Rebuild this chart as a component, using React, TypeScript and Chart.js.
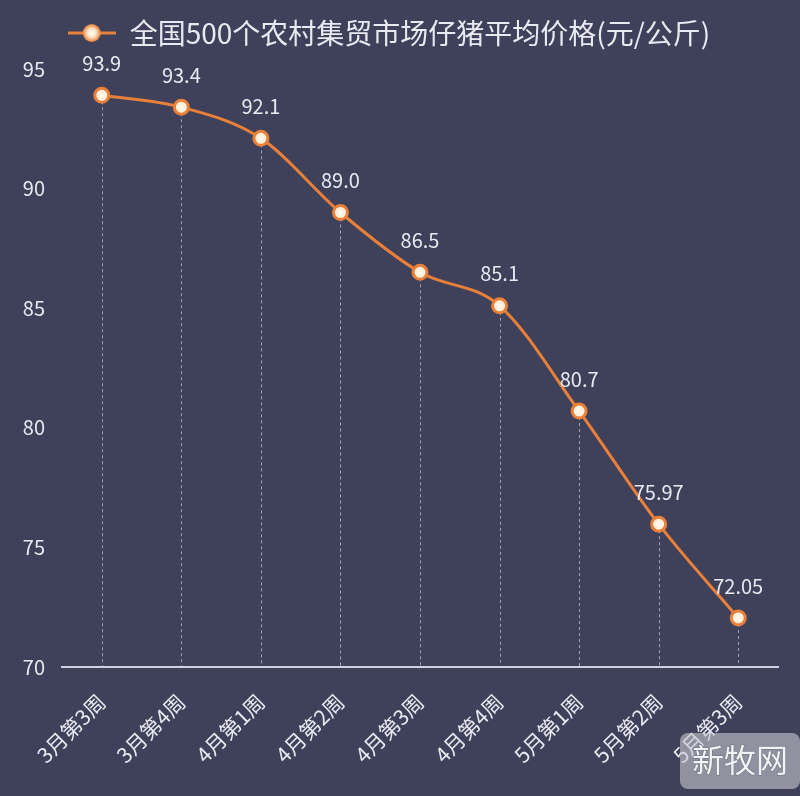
import React, { useEffect, useRef } from "react";
import { Chart, registerables } from "chart.js";

Chart.register(...registerables);

const categories = ["3月第3周", "3月第4周", "4月第1周", "4月第2周", "4月第3周", "4月第4周", "5月第1周", "5月第2周", "5月第3周"];
const prices = [93.9, 93.4, 92.1, 89.0, 86.5, 85.1, 80.7, 75.97, 72.05];
const priceLabels = ["93.9", "93.4", "92.1", "89.0", "86.5", "85.1", "80.7", "75.97", "72.05"];
const yTicks = [70, 75, 80, 85, 90, 95];
const seriesName = "全国500个农村集贸市场仔猪平均价格(元/公斤)";

const BG = "#3e4159";
const ORANGE = "#e8803a";
const TEXT = "#e8eaf2";
const FONT = "'Noto Sans CJK SC', 'Noto Sans', sans-serif";

function makeLegendIcon(): HTMLCanvasElement {
  const c = document.createElement("canvas");
  c.width = 48;
  c.height = 22;
  const ctx = c.getContext("2d")!;
  ctx.strokeStyle = ORANGE;
  ctx.lineWidth = 3;
  ctx.beginPath();
  ctx.moveTo(0, 11);
  ctx.lineTo(48, 11);
  ctx.stroke();
  const g = ctx.createRadialGradient(24, 11, 0, 24, 11, 9);
  g.addColorStop(0, "#ffffff");
  g.addColorStop(0.45, "#ffe8c8");
  g.addColorStop(1, ORANGE);
  ctx.fillStyle = g;
  ctx.beginPath();
  ctx.arc(24, 11, 9, 0, Math.PI * 2);
  ctx.fill();
  return c;
}

const bgPlugin = {
  id: "bgFill",
  beforeDraw(chart: any) {
    const { ctx, width, height } = chart;
    ctx.save();
    ctx.fillStyle = BG;
    ctx.fillRect(0, 0, width, height);
    ctx.restore();
  },
};

const dropLinePlugin = {
  id: "dropLines",
  beforeDatasetsDraw(chart: any) {
    const { ctx, chartArea } = chart;
    const meta = chart.getDatasetMeta(0);
    ctx.save();
    ctx.strokeStyle = "rgba(190,195,215,0.75)";
    ctx.lineWidth = 1;
    ctx.setLineDash([3, 3]);
    meta.data.forEach((el: any) => {
      const x = Math.round(el.x) + 0.5;
      ctx.beginPath();
      ctx.moveTo(x, el.y);
      ctx.lineTo(x, chartArea.bottom);
      ctx.stroke();
    });
    ctx.restore();
  },
};

const valueLabelPlugin = {
  id: "valueLabels",
  afterDatasetsDraw(chart: any) {
    const { ctx } = chart;
    const meta = chart.getDatasetMeta(0);
    ctx.save();
    ctx.fillStyle = TEXT;
    ctx.font = `20px ${FONT}`;
    ctx.textAlign = "center";
    ctx.textBaseline = "middle";
    meta.data.forEach((el: any, i: number) => {
      ctx.fillText(priceLabels[i], el.x, el.y - 32);
    });
    meta.data.forEach((el: any) => {
      const g = ctx.createRadialGradient(el.x, el.y, 0, el.x, el.y, 5);
      g.addColorStop(0, "rgba(255,255,255,1)");
      g.addColorStop(1, "rgba(255,230,200,0)");
      ctx.fillStyle = g;
      ctx.beginPath();
      ctx.arc(el.x, el.y, 5, 0, Math.PI * 2);
      ctx.fill();
    });
    ctx.restore();
  },
};

const watermarkPlugin = {
  id: "watermark",
  afterDraw(chart: any) {
    const { ctx } = chart;
    ctx.save();
    ctx.fillStyle = "rgba(200,200,208,0.6)";
    ctx.beginPath();
    ctx.roundRect(680, 733, 120, 56, 8);
    ctx.fill();
    ctx.fillStyle = "rgba(255,255,255,0.9)";
    ctx.strokeStyle = "#6e7080";
    ctx.lineWidth = 1;
    ctx.font = `32px ${FONT}`;
    ctx.textAlign = "center";
    ctx.textBaseline = "middle";
    ctx.strokeText("新牧网", 740, 760);
    ctx.fillText("新牧网", 740, 760);
    ctx.restore();
  },
};

export default function App() {
  const ref = useRef<HTMLCanvasElement | null>(null);

  useEffect(() => {
    if (!ref.current) return;
    const icon = makeLegendIcon();
    const chart = new Chart(ref.current, {
      type: "line",
      data: {
        labels: categories,
        datasets: [
          {
            label: seriesName,
            data: prices,
            borderColor: ORANGE,
            borderWidth: 3,
            backgroundColor: ORANGE,
            pointBackgroundColor: "#fff1dd",
            pointBorderColor: ORANGE,
            pointBorderWidth: 3,
            pointRadius: 7,
            pointStyle: "circle",
            cubicInterpolationMode: "monotone",
            fill: false,
          },
        ],
      },
      options: {
        animation: false,
        responsive: false,
        maintainAspectRatio: false,
        layout: { padding: { top: 0, right: 22, left: 0, bottom: 0 } },
        plugins: {
          legend: {
            display: true,
            position: "top",
            labels: {
              color: TEXT,
              font: { size: 28, family: FONT },
              usePointStyle: true,
              pointStyleWidth: 48,
              padding: 19,
              generateLabels: () => [
                {
                  text: seriesName,
                  fontColor: TEXT,
                  pointStyle: icon as any,
                  fillStyle: ORANGE,
                  strokeStyle: ORANGE,
                  lineWidth: 0,
                  hidden: false,
                  datasetIndex: 0,
                } as any,
              ],
            },
          },
          tooltip: { enabled: false },
        },
        scales: {
          x: {
            offset: true,
            grid: { display: false, drawTicks: false },
            border: { display: true, color: "#cfd2e0", width: 2 },
            ticks: {
              color: TEXT,
              font: { size: 21, family: FONT },
              minRotation: 45,
              maxRotation: 45,
              padding: 22,
              autoSkip: false,
            },
            afterFit: (scale: any) => {
              scale.height = 129;
            },
          },
          y: {
            min: 70,
            max: 95.5,
            afterBuildTicks: (scale: any) => {
              scale.ticks = yTicks.map((v) => ({ value: v }));
            },
            grid: { display: false, drawTicks: false },
            border: { display: false },
            ticks: {
              color: TEXT,
              font: { size: 20, family: FONT },
              padding: 17,
            },
            afterFit: (scale: any) => {
              scale.width = 62;
            },
          },
        },
      },
      plugins: [bgPlugin, dropLinePlugin, valueLabelPlugin, watermarkPlugin],
    });
    return () => chart.destroy();
  }, []);

  return (
    <div style={{ position: "fixed", left: 0, top: 0, width: 800, height: 796, background: BG }}>
      <canvas ref={ref} width={800} height={796} style={{ display: "block", width: 800, height: 796 }} />
    </div>
  );
}
